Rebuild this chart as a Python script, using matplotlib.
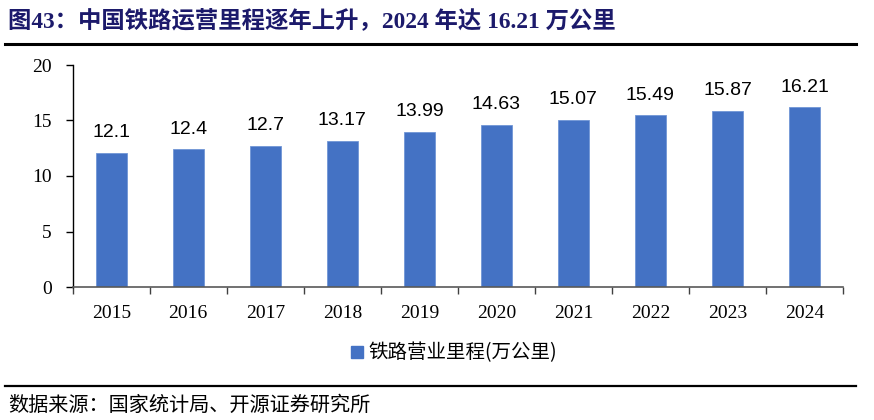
import matplotlib
matplotlib.use("Agg")
import matplotlib.pyplot as plt
from matplotlib.lines import Line2D
import numpy as np

years = ["2015", "2016", "2017", "2018", "2019", "2020", "2021", "2022", "2023", "2024"]
values = [12.1, 12.4, 12.7, 13.17, 13.99, 14.63, 15.07, 15.49, 15.87, 16.21]
labels = ["12.1", "12.4", "12.7", "13.17", "13.99", "14.63", "15.07", "15.49", "15.87", "16.21"]
yticks = [0, 5, 10, 15, 20]
title = "图43：中国铁路运营里程逐年上升，2024 年达 16.21 万公里"
series_name = "铁路营业里程(万公里)"
source = "数据来源：国家统计局、开源证券研究所"

CJK = "Noto Sans CJK SC"
SERIF = "Liberation Serif"

fig = plt.figure(figsize=(8.74, 4.2), dpi=100)
ax = fig.add_axes([72.7/874, 1-287/420, (843-72.7)/874, (287-65)/420])

x = list(range(len(years)))
ax.bar(x, values, width=0.40, color="#4472C4", edgecolor="#7196D6", linewidth=0.6, zorder=2)
for xi, v, lab in zip(x, values, labels):
    ax.text(xi, v + 1.4, lab, ha="center", va="baseline", fontsize=14,
            family=["Liberation Sans", "DejaVu Sans"], color="#000000")

ax.set_xlim(-0.5, len(years) - 0.5)
ax.set_ylim(0, 20)
ax.set_yticks(yticks)
ax.set_yticklabels([str(t) for t in yticks], family=SERIF, fontsize=14)
ax.set_xticks(x)
ax.set_xticklabels(years, family=SERIF, fontsize=14)
ax.set_xticks(np.arange(-0.5, len(years), 1.0), minor=True)
ax.tick_params(axis="y", direction="out", length=5, width=1, pad=10)
ax.tick_params(axis="x", which="major", length=0, pad=13)
ax.tick_params(axis="x", which="minor", direction="out", length=5, width=1, color="#404040")
for s in ["top", "right"]:
    ax.spines[s].set_visible(False)
ax.spines["left"].set_color("#000000")
ax.spines["bottom"].set_color("#595959")
ax.spines["left"].set_linewidth(1)
ax.spines["bottom"].set_linewidth(1.2)

# legend
handle = Line2D([], [], marker="s", linestyle="none", markersize=9,
                markerfacecolor="#4472C4", markeredgecolor="#4472C4")
fig.legend([handle], [series_name], loc="center", bbox_to_anchor=(452/874, 1-353/420),
           frameon=False, prop={"family": [CJK], "size": 14}, handletextpad=0.05,
           handlelength=1.0)

# title
fig.text(8/874, 1-21/420, title, ha="left", va="center", fontsize=16.8,
         fontweight="bold", color="#1C1A6B", family=[SERIF, CJK])
fig.add_artist(Line2D([5/874, 856/874], [1-44/420, 1-44/420], color="black", lw=2.2))
fig.add_artist(Line2D([5/874, 856/874], [1-386/420, 1-386/420], color="black", lw=1.6))
fig.text(8/874, 1-405/420, source, ha="left", va="center", fontsize=14.5,
         color="#000000", family=[CJK, "DejaVu Sans"])

fig.savefig("out.png", dpi=100)
